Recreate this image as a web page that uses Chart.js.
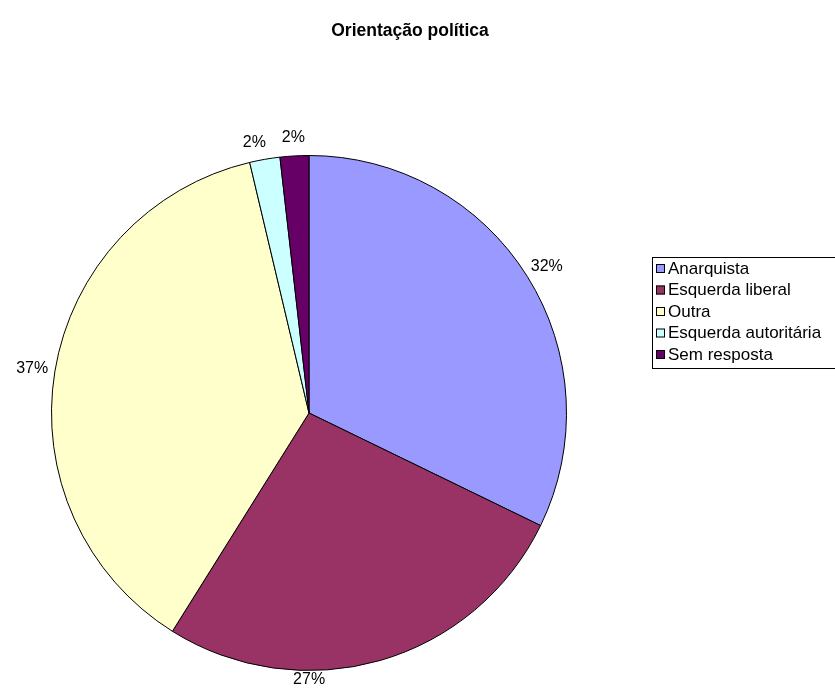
<!DOCTYPE html>
<html lang="pt">
<head>
<meta charset="utf-8">
<title>Orientação política</title>
<script src="https://cdn.jsdelivr.net/npm/chart.js@4.4.1/dist/chart.umd.min.js"></script>
<style>
  html, body { margin: 0; padding: 0; background: #fff; }
  #grafico { display: block; }
</style>
</head>
<body>
<canvas id="grafico" width="835" height="690"></canvas>
<script>
// Dados
const titulo = 'Orientação política';
const categorias = ['Anarquista', 'Esquerda liberal', 'Outra', 'Esquerda autoritária', 'Sem resposta'];
const percentagens = [32.2, 26.7, 37.4, 1.9, 1.8];

// Aparência
const cores = ['#9999FF', '#993366', '#FFFFCC', '#CCFFFF', '#660066'];
const fonte = '"Liberation Sans", Arial, sans-serif';
// ajuste manual (em graus) da posição de alguns rótulos
const ajusteRotulo = [0, 16, 0, -1.5, 0];

// Título desenhado à parte para ficar centrado na tela inteira
const pluginTitulo = {
  id: 'titulo',
  afterDraw(chart) {
    const ctx = chart.ctx;
    ctx.save();
    ctx.font = 'bold 17.5px ' + fonte;
    ctx.fillStyle = '#000';
    ctx.textAlign = 'center';
    ctx.textBaseline = 'middle';
    ctx.fillText(titulo, 410, 31);
    ctx.restore();
  }
};

// Percentagens fora das fatias, no ângulo médio de cada uma
const pluginRotulos = {
  id: 'rotulos',
  afterDatasetsDraw(chart) {
    const ctx = chart.ctx;
    const meta = chart.getDatasetMeta(0);
    const dados = chart.data.datasets[0].data;
    const total = dados.reduce((a, b) => a + b, 0);
    ctx.save();
    ctx.font = '16px ' + fonte;
    ctx.fillStyle = '#000';
    ctx.textAlign = 'center';
    ctx.textBaseline = 'middle';
    meta.data.forEach((arco, i) => {
      const p = arco.getProps(['x', 'y', 'startAngle', 'endAngle', 'outerRadius'], true);
      const meio = (p.startAngle + p.endAngle) / 2 + ajusteRotulo[i] * Math.PI / 180;
      const ux = Math.cos(meio), uy = Math.sin(meio);
      const texto = Math.round(dados[i] / total * 100) + '%';
      const meiaLarg = ctx.measureText(texto).width / 2;
      const r = p.outerRadius + 7;
      const x = p.x + ux * r + ux * meiaLarg;
      // não deixar o rótulo sair da tela
      const y = Math.min(p.y + uy * r + uy * 11, chart.height - 10);
      ctx.fillText(texto, x, y);
    });
    ctx.restore();
  }
};

// Legenda com caixa, à direita
const pluginLegenda = {
  id: 'legenda',
  afterDraw(chart) {
    const ctx = chart.ctx;
    const ds = chart.data.datasets[0];
    const esq = 652.5, topo = 257.5, base = 368.5;
    ctx.save();
    ctx.strokeStyle = '#000';
    ctx.lineWidth = 1;
    ctx.strokeRect(esq, topo, chart.width + 10 - esq, base - topo);
    ctx.font = '17px ' + fonte;
    ctx.textBaseline = 'middle';
    ctx.textAlign = 'left';
    chart.data.labels.forEach((rotulo, i) => {
      const y = 268 + i * 21.5;
      ctx.fillStyle = ds.backgroundColor[i];
      ctx.fillRect(656, y - 4, 9, 9);
      ctx.strokeRect(656.5, y - 3.5, 8, 8);
      ctx.fillStyle = '#000';
      ctx.fillText(rotulo, 668, y + 1);
    });
    ctx.restore();
  }
};

new Chart(document.getElementById('grafico'), {
  type: 'pie',
  data: {
    labels: categorias,
    datasets: [{
      data: percentagens,
      backgroundColor: cores,
      borderColor: '#000',
      borderWidth: 1,
      hoverOffset: 0
    }]
  },
  options: {
    responsive: false,
    animation: false,
    layout: { padding: { left: 51, top: 155, right: 268, bottom: 19 } },
    plugins: {
      legend: { display: false },
      title: { display: false },
      tooltip: { enabled: false }
    }
  },
  plugins: [pluginTitulo, pluginRotulos, pluginLegenda]
});
</script>
</body>
</html>
